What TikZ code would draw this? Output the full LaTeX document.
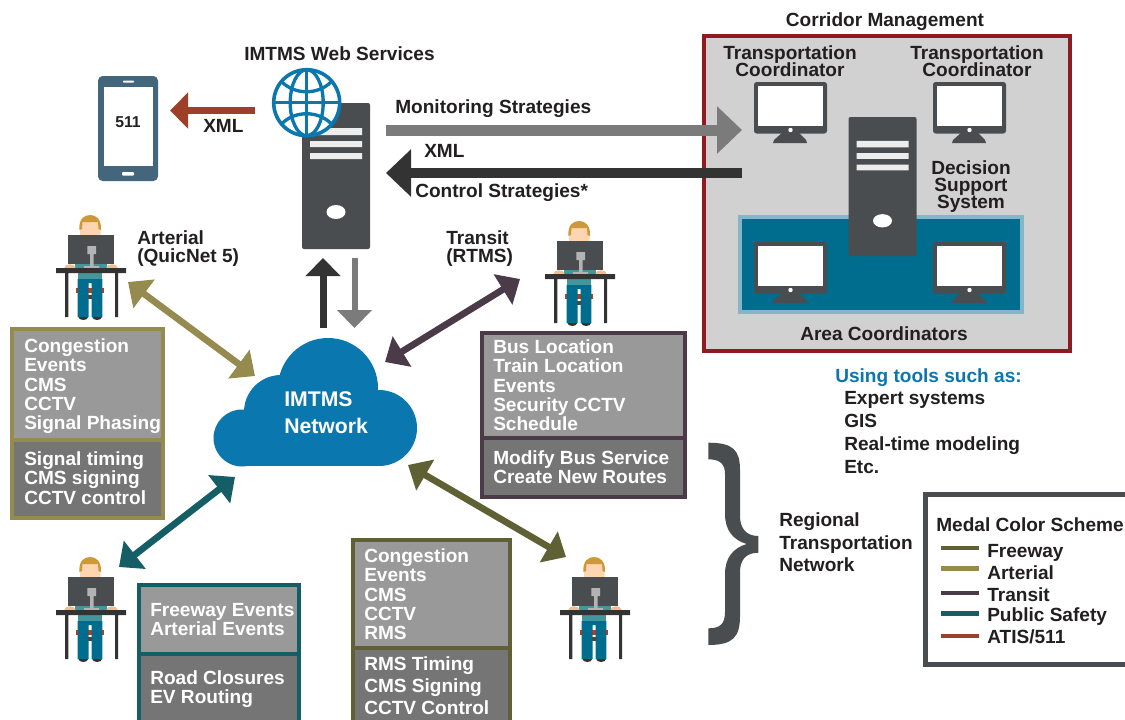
\documentclass[tikz,border=0pt]{standalone}
\usepackage{fontspec}
\setmainfont{Liberation Sans}
\usetikzlibrary{arrows.meta}
\definecolor{ink}{HTML}{231F20}
\definecolor{srv}{HTML}{4A4D50}
\definecolor{blueC}{HTML}{0A77AE}
\definecolor{freewayC}{HTML}{5F6134}
\definecolor{arterialC}{HTML}{968B4E}
\definecolor{transitC}{HTML}{4B3A48}
\definecolor{safetyC}{HTML}{155E66}
\definecolor{atisC}{HTML}{9E3F27}
\definecolor{phoneC}{HTML}{43667C}
\definecolor{dark}{HTML}{333333}
\definecolor{midg}{HTML}{7B7B7B}
\definecolor{panelC}{HTML}{D1D1D1}
\definecolor{frameC}{HTML}{8F1A20}
\definecolor{teal}{HTML}{006C8E}
\definecolor{tealL}{HTML}{84B6C8}
\definecolor{boxTop}{HTML}{999999}
\definecolor{boxBot}{HTML}{757575}
\definecolor{shirtC}{HTML}{45969B}
\definecolor{faceC}{HTML}{FDD5B1}
\definecolor{handC}{HTML}{F0BE96}
\definecolor{hairC}{HTML}{CC9838}
\definecolor{chairC}{HTML}{C63A13}
\definecolor{chairB}{HTML}{6B3A1A}
\definecolor{standC}{HTML}{B3B3B3}
\newcommand{\sizedfont}[2]{\bfseries\fontsize{#1}{#2}\selectfont\lineskiplimit=-20pt\relax}
\newcommand{\lblfont}[1]{\sizedfont{14.3}{#1}}
\newcommand{\cloudfont}{\sizedfont{15.9}{20.4}}
\tikzset{
 x=0.75pt,y=-0.75pt,
 txt/.style={font=\lblfont{14.6},text=ink,inner sep=0pt,anchor=north west,align=left},
 ctxt/.style={txt,anchor=north,align=center,font=\lblfont{12.75}},
 wtxt/.style={txt,text=white},
 bigarrow/.style n args={5}{draw=#1,line width=#2*0.75pt,-{Triangle[length=#3*0.75pt,width=#4*0.75pt,fill=#1]},#5},
 twoway/.style={draw=#1,line width=5pt,{Triangle[length=15pt,width=26pt,fill=#1]}-{Triangle[length=15pt,width=26pt,fill=#1]}},
 legendline/.style={draw=#1,line width=3.2pt},
 pics/server/.style={code={
  \fill[srv,rounded corners=1.5pt] (0,0) rectangle (68,146);
  \fill[white!93!black] (8,25) rectangle (60,32) (8,38) rectangle (60,44) (8,50) rectangle (60,56);
  \fill[white] (34,109) ellipse [x radius=9.5,y radius=7];
 }},
 pics/monitor/.style={code={
  \fill[srv] (29,50) -- (20,58) -- (19,61) -- (53,61) -- (52,58) -- (44,50) -- cycle;
  \fill[srv,rounded corners=2pt] (0,0) rectangle (73,51.5);
  \fill[white] (4,4) rectangle (69,44);
  \fill[white] (36.5,48) circle [radius=2.2];
 }},
 pics/person/.style={code={
  \fill[chairC] (-15,20) rectangle (13,25);
  \fill[chairB] (-3,27) rectangle (1,31);
  \fill[shirtC] (-13.3,4) rectangle (11.3,11);
  \fill[teal] (-13.3,11) -- (11.3,11) -- (11.3,49) -- (0.7,49) -- (0.7,15) -- (-2.3,15) -- (-2.3,49) -- (-13.3,49) -- cycle;
  \fill[dark] (-12.5,49) arc[start angle=180,end angle=0,x radius=4.8,y radius=3] -- cycle;
  \fill[dark] (1.3,49) arc[start angle=180,end angle=0,x radius=4.8,y radius=3] -- cycle;
  \fill[faceC,rounded corners=2pt] (-11,-46) rectangle (9.5,-30);
  \fill[hairC] (-11.5,-38) .. controls (-12.5,-49) and (-7,-53) .. (-0.8,-53) .. controls (5,-53) and (10.5,-49) .. (10,-38) -- (7.5,-39) -- (7,-46) -- (-8.5,-46) -- (-9,-39) -- cycle;
  \fill[shirtC] (-16,-5) rectangle (16,1);
  \fill[handC] (-21,-0.5) ellipse [x radius=5.5,y radius=3.2];
  \fill[handC] (21,-0.5) ellipse [x radius=5.5,y radius=3.2];
  \fill[srv] (-23,-33) rectangle (23,-4);
  \fill[standC] (-3.7,-22) rectangle (5,-14) (-1,-14) rectangle (2.5,-2) (-7,-2) rectangle (8,0.2);
  \fill[dark] (-35,0) rectangle (35,5) (-26,5) rectangle (-22.7,49) (24,5) rectangle (27,49);
 }},
}
\begin{document}
\begin{tikzpicture}
\path[use as bounding box] (0,0) rectangle (1125,719);
\clip (0,0) rectangle (1125,719);
\fill[white] (0,0) rectangle (1125,719);

% corridor management panel
\path[fill=panelC,draw=frameC,line width=3pt] (704,36) rectangle (1070,351);
\path[fill=teal,draw=tealL,line width=3pt] (740,217) rectangle (1022,312);
\pic at (754,82) {monitor};
\pic at (933,82) {monitor};
\pic at (754,242) {monitor};
\pic at (933,242) {monitor};
\pic[yscale=0.952] at (848.5,117) {server};
\node[txt,anchor=north] (corrTitle) at (885,12) {Corridor Management};
\node[ctxt] (tc1) at (790,45) {Transportation\\Coordinator};
\node[ctxt] (tc2) at (977,45) {Transportation\\Coordinator};
\node[ctxt] (dss) at (971,160) {Decision\\Support\\System};
\node[txt,anchor=north] (area) at (884,326) {Area Coordinators};

% central server and globe
\pic at (302,103) {server};
\path[fill=white,draw=blueC,line width=2.7pt] (306.7,102.7) circle [radius=33];
\draw[blueC,line width=2.5pt] (306.7,70) -- (306.7,135.5) (274,102.7) -- (339.5,102.7);
\draw[blueC,line width=2.5pt] (306.7,102.7) ellipse [x radius=16.5,y radius=33];
\draw[blueC,line width=2.5pt] (282,82) .. controls (295,95) and (318,95) .. (331,82);
\draw[blueC,line width=2.5pt] (282,123.5) .. controls (295,110.5) and (318,110.5) .. (331,123.5);
\node[txt] (webT) at (244,46) {IMTMS Web Services};

% phone
\fill[phoneC,rounded corners=3.5pt] (98,76) rectangle (158,181);
\fill[white] (104,87) rectangle (153,166);
\fill[white,rounded corners=0.7pt] (123,80.5) rectangle (134,82.7) (122,172) rectangle (134,175.5);
\node[txt,anchor=center,font=\bfseries\fontsize{11.8}{13}\selectfont] (p511) at (128,122.5) {511};

% flows
\coordinate (xmlA) at (255,110.5); \coordinate (xmlB) at (170,110.5);
\draw[bigarrow={atisC}{6.5}{18}{35}{}] (xmlA) -- (xmlB);
\node[txt] (xml1) at (203,119.5) {XML};
\coordinate (upA) at (323,328); \coordinate (upB) at (323,258);
\draw[bigarrow={dark}{7}{18}{34}{}] (upA) -- (upB);
\coordinate (dnA) at (354.5,258); \coordinate (dnB) at (354.5,328);
\draw[bigarrow={midg}{6}{18}{34}{}] (dnA) -- (dnB);
\coordinate (monA) at (386,130); \coordinate (monB) at (742,130);
\draw[bigarrow={midg}{11}{25}{46}{}] (monA) -- (monB);
\coordinate (ctlA) at (742,173); \coordinate (ctlB) at (386,173);
\draw[bigarrow={dark}{10}{25}{46}{}] (ctlA) -- (ctlB);
\node[txt] (monT) at (395,99) {Monitoring Strategies};
\node[txt] (xml2) at (424,144) {XML};
\node[txt] (ctlT) at (415,183) {Control Strategies*};

% cloud
\fill[blueC] (242,438) circle [radius=28.5];
\fill[blueC] (281,412) circle [radius=37];
\fill[blueC] (328,388) circle [radius=50];
\fill[blueC] (379,428) circle [radius=38];
\fill[blueC] (242,410) rectangle (380,466.4);
\node[wtxt,font=\cloudfont] (cloudT) at (284,391.5) {IMTMS\\Network};

% operators
\pic at (91,268) {person};
\pic at (580,274) {person};
\pic at (91,610) {person};
\pic at (595,610) {person};
\node[txt,font=\lblfont{13.5}] (artT) at (137,230) {Arterial\\(QuicNet 5)};
\node[txt,font=\lblfont{13.5}] (traT) at (446,230) {Transit\\(RTMS)};

% two-way arrows
\coordinate (a1) at (128,282); \coordinate (a2) at (255,376);
\coordinate (t1) at (520,279); \coordinate (t2) at (385,362);
\coordinate (s1) at (119,567); \coordinate (s2) at (235,477);
\coordinate (f1) at (566,557); \coordinate (f2) at (408,465);
\draw[twoway=arterialC] (a1) -- (a2);
\draw[twoway=transitC] (t1) -- (t2);
\draw[twoway=safetyC] (s1) -- (s2);
\draw[twoway=freewayC] (f1) -- (f2);

% data boxes
\path[fill=boxTop,draw=arterialC,line width=3pt] (12,329) rectangle (163,440);
\path[fill=boxBot,draw=arterialC,line width=3pt] (12,440) rectangle (163,518);
\path[fill=boxTop,draw=transitC,line width=3pt] (482,333) rectangle (685,438);
\path[fill=boxBot,draw=transitC,line width=3pt] (482,438) rectangle (685,497);
\path[fill=boxTop,draw=safetyC,line width=3pt] (139,585) rectangle (299,654);
\path[fill=boxBot,draw=safetyC,line width=3pt] (139,654) rectangle (299,730);
\path[fill=boxTop,draw=freewayC,line width=3pt] (353,540) rectangle (510,648);
\path[fill=boxBot,draw=freewayC,line width=3pt] (353,648) rectangle (510,730);
\node[wtxt] (b1a) at (24,338) {Congestion\\Events\\CMS\\CCTV\\Signal Phasing};
\node[wtxt] (b1b) at (24,451) {Signal timing\\CMS signing\\CCTV control};
\node[wtxt] (b2a) at (493,339) {Bus Location\\Train Location\\Events\\Security CCTV\\Schedule};
\node[wtxt] (b2b) at (493,450) {Modify Bus Service\\Create New Routes};
\node[wtxt] (b3a) at (150,603) {Freeway Events\\Arterial Events};
\node[wtxt] (b3b) at (150,670) {Road Closures\\EV Routing};
\node[wtxt] (b4a) at (364,548) {Congestion\\Events\\CMS\\CCTV\\RMS};
\node[wtxt,font=\lblfont{16.8}] (b4b) at (364,656) {RMS Timing\\CMS Signing\\CCTV Control};

% tools list
\node[txt,text=blueC] (toolsT) at (835,368) {Using tools such as:};
\node[txt,font=\lblfont{17.2}] (tools) at (844,391) {Expert systems\\GIS\\Real-time modeling\\Etc.};

% brace
\fill[srv] (708.3,442.7) .. controls (733,442.7) and (740,450) .. (740,470)
 -- (740,516) .. controls (740,528) and (746,536) .. (758.3,536)
 -- (758.3,552.7) .. controls (746,552.7) and (740,560) .. (740,572)
 -- (740,616) .. controls (740,637) and (733,645) .. (708.3,645)
 -- (708.3,628.3) .. controls (720,628.3) and (725,624) .. (725,612)
 -- (725,574) .. controls (725,558) and (733,548) .. (746.7,544)
 .. controls (733,540) and (725,530) .. (725,514)
 -- (725,474) .. controls (725,464) and (720,459.3) .. (708.3,459.3) -- cycle;
\node[txt,font=\lblfont{17.2}] (regT) at (779,512) {Regional\\Transportation\\Network};

% legend
\path[draw=srv,line width=3.6pt,fill=white] (925.5,494.5) rectangle (1135,664.5);
\node[txt] (legT) at (936,517) {Medal Color Scheme};
\coordinate (l1a) at (941,548); \coordinate (l1b) at (979,548);
\coordinate (l2a) at (941,568.5); \coordinate (l2b) at (979,568.5);
\coordinate (l3a) at (941,593); \coordinate (l3b) at (979,593);
\coordinate (l4a) at (941,613.5); \coordinate (l4b) at (979,613.5);
\coordinate (l5a) at (941,636); \coordinate (l5b) at (979,636);
\draw[legendline=freewayC] (l1a) -- (l1b);
\draw[legendline=arterialC] (l2a) -- (l2b);
\draw[legendline=transitC] (l3a) -- (l3b);
\draw[legendline=safetyC] (l4a) -- (l4b);
\draw[legendline=atisC] (l5a) -- (l5b);
\node[txt] (lg1) at (987,544) {Freeway};
\node[txt] (lg2) at (987,565) {Arterial};
\node[txt] (lg3) at (987,587) {Transit};
\node[txt] (lg4) at (987,607.5) {Public Safety};
\node[txt] (lg5) at (987,629) {ATIS/511};
\end{tikzpicture}
\end{document}
